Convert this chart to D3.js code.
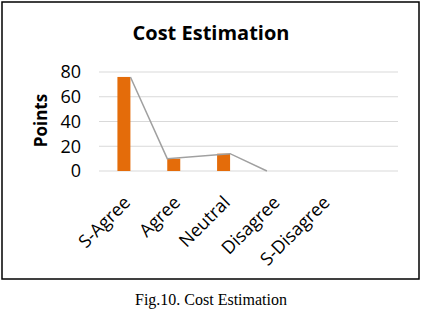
<!DOCTYPE html>
<html>
<head>
<meta charset="utf-8">
<script src="https://cdn.jsdelivr.net/npm/d3@7"></script>
<style>
  body { margin: 0; background: #fff; }
  svg text { font-family: "Open Sans", "Noto Sans", sans-serif; }
</style>
</head>
<body>
<div id="chart"></div>
<script>
// dados
const categories = ["S-Agree", "Agree", "Neutral", "Disagree", "S-Disagree", ""];
const barValues = [76, 10, 14, 0, 0];
const lineValues = [76, 10, 14, 0];
const lineOffsets = [0.5, -0.5, 0.5, -0.5]; // em larguras de barra
const yTicks = [0, 20, 40, 60, 80];

const W = 422, H = 310;
const margin = {top: 72, right: 24, bottom: 139, left: 99};
const width = W - margin.left - margin.right;
const height = H - margin.top - margin.bottom;

const root = d3.select("#chart").append("svg")
    .attr("width", W)
    .attr("height", H);

// moldura
root.append("rect")
    .attr("x", 2).attr("y", 2)
    .attr("width", 417).attr("height", 277)
    .attr("fill", "none")
    .attr("stroke", "#000")
    .attr("stroke-width", 1.5);

// titulo
root.append("text")
    .attr("x", 211).attr("y", 40)
    .attr("text-anchor", "middle")
    .style("font-size", "20px")
    .style("font-weight", "bold")
    .text("Cost Estimation");

// legenda da figura
root.append("text")
    .attr("x", 211).attr("y", 305)
    .attr("text-anchor", "middle")
    .style("font-family", "'Liberation Serif', 'DejaVu Serif', serif")
    .style("font-size", "16px")
    .text("Fig.10. Cost Estimation");

const svg = root.append("g")
    .attr("transform", `translate(${margin.left},${margin.top})`);

const x = d3.scaleBand().domain(categories).range([0, width]);
const y = d3.scaleLinear().domain([0, 80]).range([height, 0]);

// grade
svg.append("g")
    .selectAll("line")
    .data(yTicks)
    .join("line")
    .attr("x1", 0).attr("x2", width)
    .attr("y1", d => y(d)).attr("y2", d => y(d))
    .attr("stroke", "#d9d9d9")
    .attr("stroke-width", 1);

// eixo y
const yAxis = svg.append("g")
    .call(d3.axisLeft(y).tickValues(yTicks).tickSize(0).tickPadding(18));
yAxis.select(".domain").remove();
yAxis.selectAll("text")
    .style("font-size", "18px")
    .style("font-family", "'Open Sans', sans-serif")
    .attr("fill", "#000");

// eixo x
const xAxis = svg.append("g")
    .attr("transform", `translate(0,${height})`)
    .call(d3.axisBottom(x).tickSize(0));
xAxis.select(".domain").remove();
xAxis.selectAll("text")
    .style("font-size", "18px")
    .style("font-family", "'Open Sans', sans-serif")
    .attr("fill", "#000")
    .attr("text-anchor", "end")
    .attr("dy", "0.35em")
    .attr("transform", "translate(1,26) rotate(-45)");

// barras
const barW = 13;
svg.selectAll(".bar")
    .data(barValues)
    .join("rect")
    .attr("class", "bar")
    .attr("x", (d, i) => x(categories[i]) + x.bandwidth() / 2 - barW / 2)
    .attr("y", d => y(d))
    .attr("width", barW)
    .attr("height", d => height - y(d))
    .attr("fill", "#e46c0a");

// linha
const line = d3.line()
    .x((d, i) => x(categories[i]) + x.bandwidth() / 2 + lineOffsets[i] * barW)
    .y(d => y(d));

svg.append("path")
    .datum(lineValues)
    .attr("fill", "none")
    .attr("stroke", "#a0a0a0")
    .attr("stroke-width", 1.5)
    .attr("d", line);

// rotulo eixo y
svg.append("text")
    .attr("transform", "rotate(-90)")
    .attr("x", -(height / 2) + 1)
    .attr("y", -52)
    .attr("text-anchor", "middle")
    .style("font-size", "17px")
    .style("font-weight", "bold")
    .text("Points");
</script>
</body>
</html>
